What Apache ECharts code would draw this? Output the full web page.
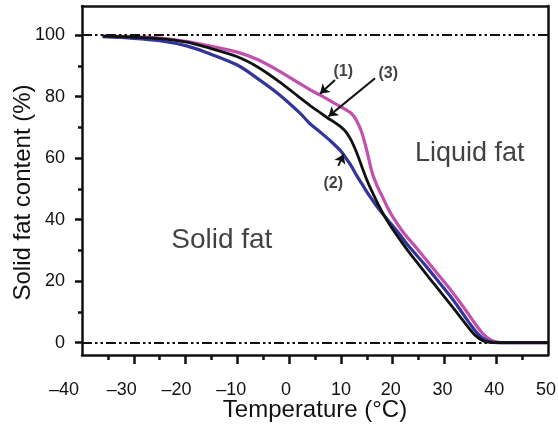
<!DOCTYPE html>
<html><head><meta charset="utf-8">
<script src="https://cdn.jsdelivr.net/npm/echarts@6/dist/echarts.min.js"></script>
<style>html,body{margin:0;padding:0;background:#fff}#c{width:558px;height:424px}</style>
</head><body><div id="c"></div>
<script>
// ---- data ----
const temp1 = [-36,-30,-25,-20,-16,-10,-6,-2,2,4,6,8,10,12,13,14,15,16,17,18,19,20,22,25,28,31,34,36,37.5,39,40.5,43,50];
const sfc1  = [99.7,99.5,99.1,98.0,96.7,94.5,92.0,88.4,84.3,82.3,80.5,78.6,76.7,74.6,72.3,68.5,62.5,55.5,51,47.5,44,41,36,30,23.8,17.6,10.8,6,2.8,0.8,0.1,0,0];

const temp2 = [-36,-30,-25,-20,-16,-10,-6,-2,2,4,6,8,10,11,12,13,14,15.5,17,19,21,23,26,29,31,33,35,36.5,38,39.5,41,50];
const sfc2  = [99.5,99.0,98.2,96.6,94.4,90.3,85.8,80.8,74.8,71.3,68.5,65.6,62.3,60,57.5,54.5,51.8,47.8,44.2,40,36,31.6,25.8,19.6,15.4,10.8,6,2.8,0.8,0.1,0,0];

const temp3 = [-36,-30,-25,-20,-16,-10,-6,-2,2,4,6,7.5,8.5,10,11,12,13,14,15,16,17.5,19,21,23,25,27,29,31,33,34.5,36,37.5,39,41,50];
const sfc3  = [99.7,99.4,98.9,97.8,96.1,93.0,89.6,85,79.8,77.2,74.8,73.0,72.0,70.2,68.5,65.8,62,57.5,53,49.2,44,39.5,34.5,29.8,25.5,21.2,17,12.8,8.5,5.2,2.3,0.6,0.1,0,0];

const xTickLabels = [-40,-30,-20,-10,0,10,20,30,40,50];
const xMajorTicks = [-30,-20,-10,0,10,20,30,40];
const xMinorTicks = [-35,-25,-15,-5,5,15,25,35,45];
const yTickLabels = [0,20,40,60,80,100];
const yMinorTicks = [10,30,50,70,90];
const refLines = [0,100];

const seriesNames = ['(1)','(2)','(3)'];
const xTitle = 'Temperature (°C)';
const yTitle = 'Solid fat content (%)';

// ---- chart ----
const FONT = '"Liberation Sans", Arial, Helvetica, sans-serif';
const INK = '#111';
const TXT = '#111';
const zip = (a,b) => a.map((v,i)=>[v,b[i]]);
const chart = echarts.init(document.getElementById('c'), null, {renderer:'canvas'});

const axLine = {show:true, onZero:false, lineStyle:{color:INK, width:2.5}};
const noLine = {show:false, onZero:false};
const tickStyle = {color:INK, width:2.5};
const hidden = {show:false};

// the printed x labels sit slightly left of their ticks on the left half
const labelShift = {'-40':18, '-30':12, '-20':9, '-10':6, '0':3, '10':0, '20':2, '30':2, '40':2, '50':2};
const rich = {};
Object.keys(labelShift).forEach(k => {
  rich['s' + labelShift[k]] = {fontSize:18, color:TXT, fontFamily:FONT, padding:[0, 2*labelShift[k], 0, 0]};
});
const fmtX = v => {
  const t = v < 0 ? '\u2013' + (-v) : String(v);
  const s = labelShift[String(v)] || 0;
  return '{s' + s + '|' + t + '}';
};

const option = {
  animation:false,
  backgroundColor:'#fff',
  grid:{left:82, right:10, top:6, bottom:69, containLabel:false, outerBoundsMode:'none'},
  xAxis:[
    {type:'value', position:'bottom', min:-40, max:50, interval:10,
     axisLine:axLine,
     axisTick:{show:true, customValues:xMajorTicks, length:9, lineStyle:tickStyle},
     axisLabel:{customValues:xTickLabels, formatter:fmtX, rich:rich, fontSize:18, color:TXT, margin:26, fontFamily:FONT},
     splitLine:hidden,
     name:xTitle, nameLocation:'middle', nameGap:43, nameMoveOverlap:false,
     nameTextStyle:{fontSize:24, color:TXT, fontFamily:FONT}},
    {type:'value', position:'bottom', min:-40, max:50, interval:10,
     axisLine:noLine,
     axisTick:{show:true, customValues:xMinorTicks, length:5, lineStyle:tickStyle},
     axisLabel:hidden, splitLine:hidden},
    {type:'value', position:'top', min:-40, max:50, interval:10,
     axisLine:axLine, axisTick:hidden, axisLabel:hidden, splitLine:hidden}
  ],
  yAxis:[
    {type:'value', position:'left', min:-4, max:109.5,
     axisLine:axLine,
     axisTick:{show:true, customValues:yTickLabels, length:7, lineStyle:tickStyle},
     axisLabel:{customValues:yTickLabels, fontSize:18, color:TXT, margin:17, fontFamily:FONT},
     splitLine:hidden,
     name:yTitle, nameLocation:'middle', nameGap:47, nameMoveOverlap:false,
     nameTextStyle:{fontSize:24, color:TXT, fontFamily:FONT, padding:[0,24,0,0]}},
    {type:'value', position:'left', min:-4, max:109.5,
     axisLine:noLine,
     axisTick:{show:true, customValues:yMinorTicks, length:4, lineStyle:tickStyle},
     axisLabel:hidden, splitLine:hidden},
    {type:'value', position:'right', min:-4, max:109.5,
     axisLine:axLine, axisTick:hidden, axisLabel:hidden, splitLine:hidden}
  ],
  series:[
    {type:'line', name:'ref', data:[], z:1, silent:true,
     markLine:{silent:true, symbol:['none','none'], label:{show:false},
       lineStyle:{color:INK, width:2, type:[10,3,2.5,3,2.5,3]},
       emphasis:{disabled:true},
       data:refLines.map(v=>({yAxis:v}))}},
    {type:'line', name:seriesNames[0], data:zip(temp1,sfc1), showSymbol:false, smooth:0.3, z:3,
     lineStyle:{color:'#c150ae', width:3.2}, itemStyle:{color:'#c150ae'}},
    {type:'line', name:seriesNames[1], data:zip(temp2,sfc2), showSymbol:false, smooth:0.3, z:4,
     lineStyle:{color:'#33359c', width:3.2}, itemStyle:{color:'#33359c'}},
    {type:'line', name:seriesNames[2], data:zip(temp3,sfc3), showSymbol:false, smooth:0.3, z:5,
     lineStyle:{color:INK, width:2.8}, itemStyle:{color:INK}},
    {type:'line', name:'arrows', data:[], z:6, silent:true,
     markLine:{silent:true, symbol:['none','arrow'], symbolSize:9, label:{show:false},
       lineStyle:{color:INK, width:2, type:'solid'}, emphasis:{disabled:true},
       data:[
         [{coord:[8.86,85.4]},{coord:[5.96,81.0]}],
         [{coord:[16.6,86.0]},{coord:[7.6,73.6]}],
         [{coord:[9.5,57.5]},{coord:[10.5,61.3]}]
       ]}},
    {type:'scatter', name:'text', z:7, silent:true, symbolSize:0,
     label:{show:true, position:'inside', formatter:'{b}', color:TXT, fontFamily:FONT, fontSize:16, fontWeight:'bold'},
     data:[
       {name:seriesNames[0], value:[10.46,88.1]},
       {name:seriesNames[2], value:[19.15,87.6]},
       {name:seriesNames[1], value:[8.53,51.8]},
       {name:'Solid fat', value:[-13,33.4], label:{fontSize:28, fontWeight:'normal'}},
       {name:'Liquid fat', value:[34.9,61.5], label:{fontSize:27, fontWeight:'normal'}}
     ]}
  ]
};
chart.setOption(option);
</script>
</body></html>
